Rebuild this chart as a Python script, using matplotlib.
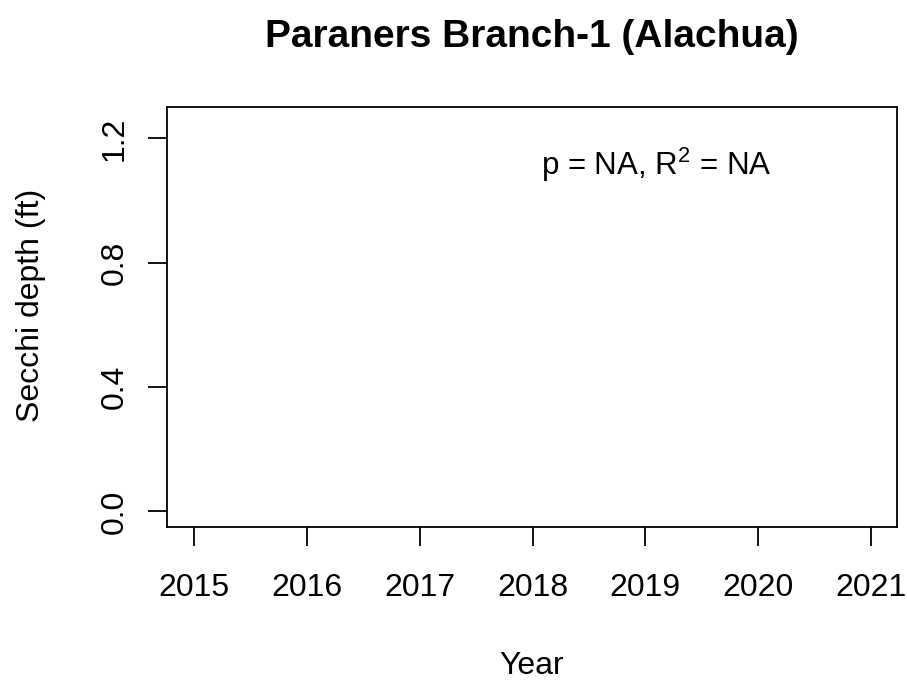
import matplotlib
matplotlib.use("Agg")
import matplotlib.pyplot as plt

plt.rcParams['font.family'] = ['Liberation Sans', 'DejaVu Sans']
plt.rcParams['mathtext.fontset'] = 'custom'
plt.rcParams['mathtext.rm'] = 'Liberation Sans'
plt.rcParams['mathtext.it'] = 'Liberation Sans:italic'

title = "Paraners Branch-1 (Alachua)"
x_label = "Year"
y_label = "Secchi depth (ft)"
x_ticks = [2015, 2016, 2017, 2018, 2019, 2020, 2021]
y_ticks = [0.0, 0.4, 0.8, 1.2]
y_tick_labels = ["0.0", "0.4", "0.8", "1.2"]
# No observations: the series is empty
years = []
secchi = []
stats_text = r"p = NA, R$^2$ = NA"

fig = plt.figure(figsize=(9.07, 6.82), dpi=100)
ax = fig.add_axes([0.1841, 0.2273, 0.989 - 0.1841, 0.8427 - 0.2273])

ax.plot(years, secchi, 'o', color='black')

ax.set_xlim(2014.76, 2021.23)
ax.set_ylim(-0.05, 1.30)
ax.set_xticks(x_ticks)
ax.set_xticklabels([str(v) for v in x_ticks])
ax.set_yticks(y_ticks)
ax.set_yticklabels(y_tick_labels, rotation=90, va='center')

for s in ax.spines.values():
    s.set_linewidth(1.3)

ax.tick_params(axis='both', length=14, width=1.3, labelsize=23, color='black')
ax.tick_params(axis='x', pad=19)
ax.tick_params(axis='y', pad=13)

ax.text(2019.1, 1.115, stats_text, fontsize=22.5, ha='center', va='center')

# Title and x label are centred over the plotting region
cx = (ax.get_position().x0 + ax.get_position().x1) / 2
fig.text(cx, 0.946, title, fontsize=28, fontweight='bold', ha='center', va='center')
fig.text(cx, 0.023, x_label, fontsize=23, ha='center', va='center')
fig.text(0.034, 0.5516, y_label, fontsize=23, ha='center', va='center', rotation=90)

fig.savefig("out.png", dpi=100)
